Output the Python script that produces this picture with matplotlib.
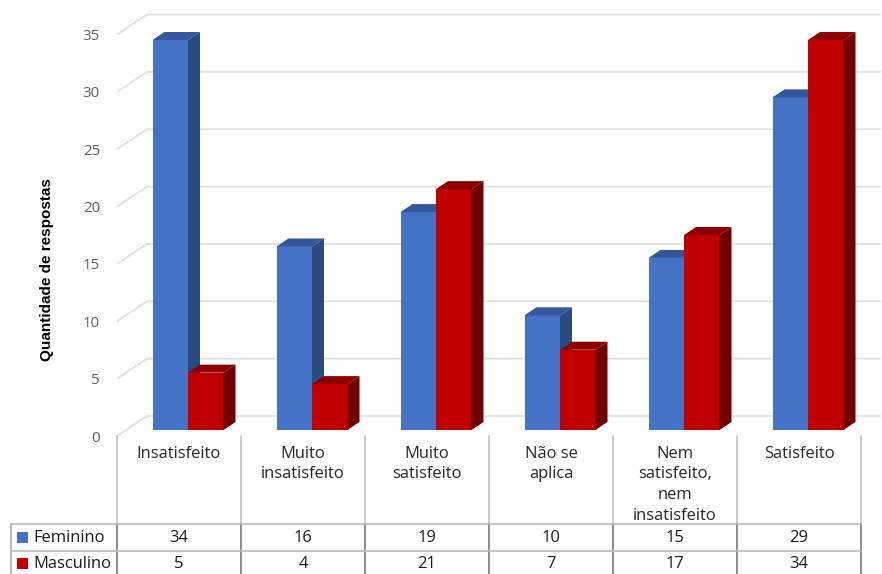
import matplotlib
matplotlib.use("Agg")
import matplotlib.pyplot as plt
from matplotlib.patches import Rectangle

categories = ["Insatisfeito", "Muito\ninsatisfeito", "Muito\nsatisfeito",
              "Não se\naplica", "Nem\nsatisfeito,\nnem\ninsatisfeito", "Satisfeito"]
feminino = [34, 16, 19, 10, 15, 29]
masculino = [5, 4, 21, 7, 17, 34]
y_ticks = [0, 5, 10, 15, 20, 25, 30, 35]

plt.rcParams["font.family"] = ["Open Sans", "DejaVu Sans"]

W, H = 882, 574
X0, CELL = 117, 124       # left edge and width of a category cell
Y0, UNIT = 430, 11.47     # baseline of the bars and height of one unit

fig = plt.figure(figsize=(W / 100, H / 100), dpi=100)
ax = fig.add_axes([0, 0, 1, 1])
ax.set_xlim(-X0 / CELL, (W - X0) / CELL)
ax.set_ylim((Y0 - H) / UNIT, Y0 / UNIT)
ax.axis("off")

# helpers to go from pixel offsets to data units
dx = lambda p: p / CELL
dy = lambda p: p / UNIT
row = lambda p: (Y0 - p) / UNIT

bar_w = dx(35.5)
bar_off = dx(9)
depth_x, depth_y = dx(12), dy(8)
n = len(categories)

# walls and gridlines
wall_front = dy(-6)
wall_back = dy(14)
wall_x = dx(30)
for t in y_ticks:
    ax.plot([0, wall_x, n + dx(20)], [t + wall_front, t + wall_back, t + wall_back],
            color="#dedede", lw=1.2, zorder=1, solid_capstyle="butt")
    ax.text(dx(-17), t + wall_front - dy(2), str(t), ha="right", va="center",
            fontsize=10.8, color="#5f5f5f")


def bar3d(x, v, front, side, top, z):
    ax.bar(x, v, bar_w, align="edge", color=front, zorder=z)
    r = x + bar_w
    ax.fill([r, r + depth_x, r + depth_x, r], [0, depth_y, v + depth_y, v],
            color=side, lw=0, zorder=z)
    ax.fill([x, x + depth_x, r + depth_x, r], [v, v + depth_y, v + depth_y, v],
            color=top, lw=0, zorder=z)


for i in range(n):
    centre = i + 0.5 + bar_off
    bar3d(centre - bar_w, feminino[i], "#4472c4", "#2b4a80", "#34569a", 3)
    bar3d(centre, masculino[i], "#c00000", "#720000", "#8e0000", 4)

# data table under the chart
row_top, row_mid, row_bot = row(524), row(550.5), row(574)
for i in range(n + 1):
    ax.plot([i, i], [row(436), row_top], color="#bcbcbc", lw=1.1, zorder=2)
    ax.plot([i, i], [row_top, row_bot], color="#8c8c8c", lw=1.4, zorder=2)
left = dx(11 - X0)
ax.plot([left, left], [row_top, row_bot], color="#a8a8a8", lw=1.1, zorder=2)
ax.plot([left, n], [row_top, row_top], color="#bcbcbc", lw=1.2, zorder=2)
ax.plot([left, n], [row_mid, row_mid], color="#bcbcbc", lw=1.2, zorder=2)

for i, label in enumerate(categories):
    for j, line in enumerate(label.split("\n")):
        ax.text(i + 0.5, row(453.5 + j * 20.8), line, ha="center", va="center",
                fontsize=11.9, color="#262626")
    ax.text(i + 0.5, row(537.5), str(feminino[i]), ha="center", va="center",
            fontsize=11.9, color="#1a1a1a")
    ax.text(i + 0.5, row(564.5), str(masculino[i]), ha="center", va="center",
            fontsize=11.9, color="#1a1a1a")

key_x = dx(17 - X0)
for name, colour, y_mid in [("Feminino", "#4472c4", 537.5), ("Masculino", "#c00000", 563.5)]:
    ax.add_patch(Rectangle((key_x, row(y_mid + 5.5)), dx(11), dy(11), color=colour, lw=0, zorder=3))
    ax.text(dx(33 - X0), row(y_mid + 0.5), name, ha="left", va="center",
            fontsize=11.9, color="#1a1a1a")

ax.text(dx(47 - X0), row(270), "Quantidade de respostas", rotation=90, ha="center",
        va="center", fontsize=11, fontweight="bold", family="Liberation Sans", color="black")

fig.savefig("out.png", dpi=100)
